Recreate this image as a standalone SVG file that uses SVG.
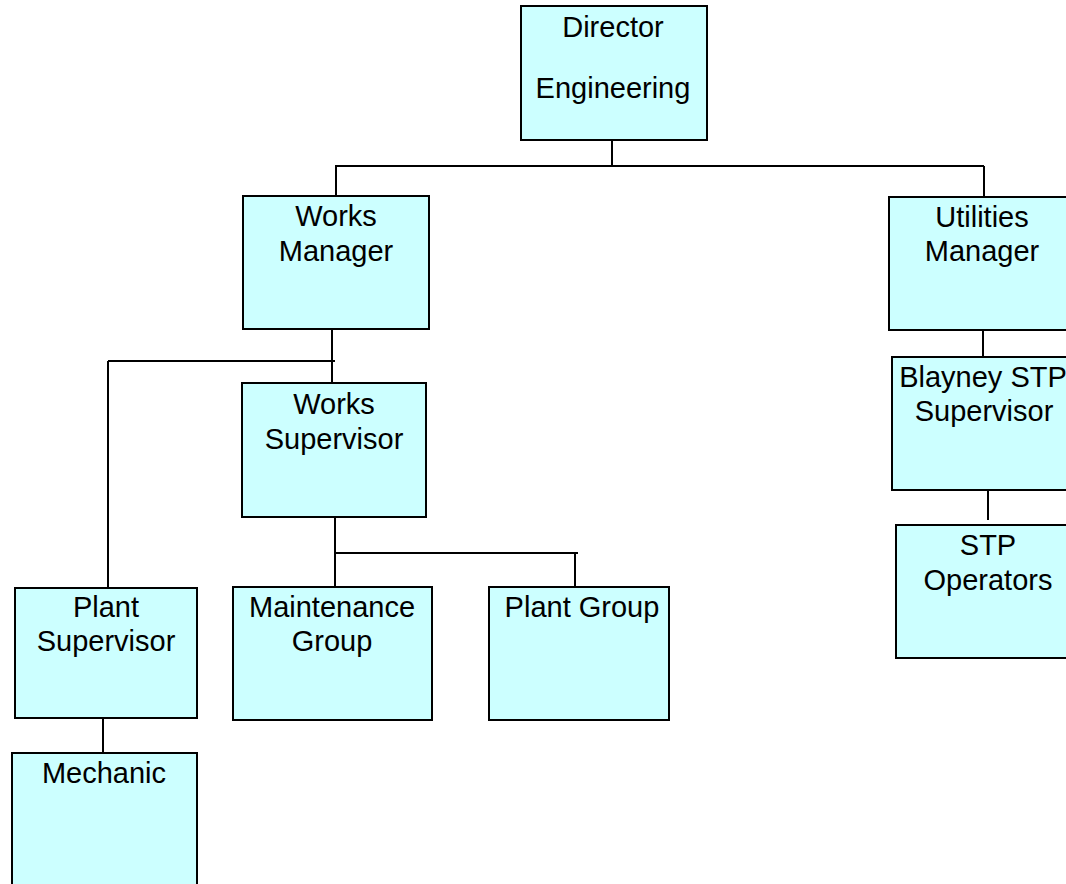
<svg xmlns="http://www.w3.org/2000/svg" width="1066" height="884" viewBox="0 0 1066 884">
  <style>
    .box { fill: #ccffff; stroke: #000; stroke-width: 2; }
    .lbl { font-family: "Liberation Sans", Arial, sans-serif; font-size: 29px; fill: #000; text-anchor: middle; }
    .wire { stroke: #000; stroke-width: 2; fill: none; }
  </style>
  <rect width="1066" height="884" fill="#fff"/>

  <!-- reporting lines -->
  <g id="connectors">
    <path class="wire" d="M612 140 V166 M335 166 H984 M336 166 V196 M984 166 V197"/>
    <path class="wire" d="M332 329 V383 M108 361 H335 M108 361 V588"/>
    <path class="wire" d="M335 517 V587 M335 553 H578 M575 553 V587"/>
    <path class="wire" d="M103 718 V753"/>
    <path class="wire" d="M983 330 V357 M988 490 V520"/>
  </g>

  <g id="director">
    <rect class="box" x="521" y="6" width="186" height="134"/>
    <text class="lbl" x="613" y="37">Director</text>
    <text class="lbl" x="613" y="98">Engineering</text>
  </g>

  <g id="works-manager">
    <rect class="box" x="243" y="196" width="186" height="133"/>
    <text class="lbl" x="336" y="226">Works</text>
    <text class="lbl" x="336" y="261">Manager</text>
  </g>

  <g id="utilities-manager">
    <rect class="box" x="889" y="197" width="188" height="133"/>
    <text class="lbl" x="982" y="227">Utilities</text>
    <text class="lbl" x="982" y="261">Manager</text>
  </g>

  <g id="blayney-stp-supervisor">
    <rect class="box" x="892" y="357" width="188" height="133"/>
    <text class="lbl" x="983" y="387">Blayney STP</text>
    <text class="lbl" x="984" y="421">Supervisor</text>
  </g>

  <g id="stp-operators">
    <rect class="box" x="896" y="525" width="188" height="133"/>
    <text class="lbl" x="988" y="555">STP</text>
    <text class="lbl" x="988" y="590">Operators</text>
  </g>

  <g id="works-supervisor">
    <rect class="box" x="242" y="383" width="184" height="134"/>
    <text class="lbl" x="334" y="414">Works</text>
    <text class="lbl" x="334" y="449">Supervisor</text>
  </g>

  <g id="plant-supervisor">
    <rect class="box" x="15" y="588" width="182" height="130"/>
    <text class="lbl" x="106" y="617">Plant</text>
    <text class="lbl" x="106" y="651">Supervisor</text>
  </g>

  <g id="maintenance-group">
    <rect class="box" x="233" y="587" width="199" height="133"/>
    <text class="lbl" x="332" y="617">Maintenance</text>
    <text class="lbl" x="332" y="651">Group</text>
  </g>

  <g id="plant-group">
    <rect class="box" x="489" y="587" width="180" height="133"/>
    <text class="lbl" x="582" y="617">Plant Group</text>
  </g>

  <g id="mechanic">
    <rect class="box" x="12" y="753" width="185" height="140"/>
    <text class="lbl" x="104" y="783">Mechanic</text>
  </g>
</svg>
